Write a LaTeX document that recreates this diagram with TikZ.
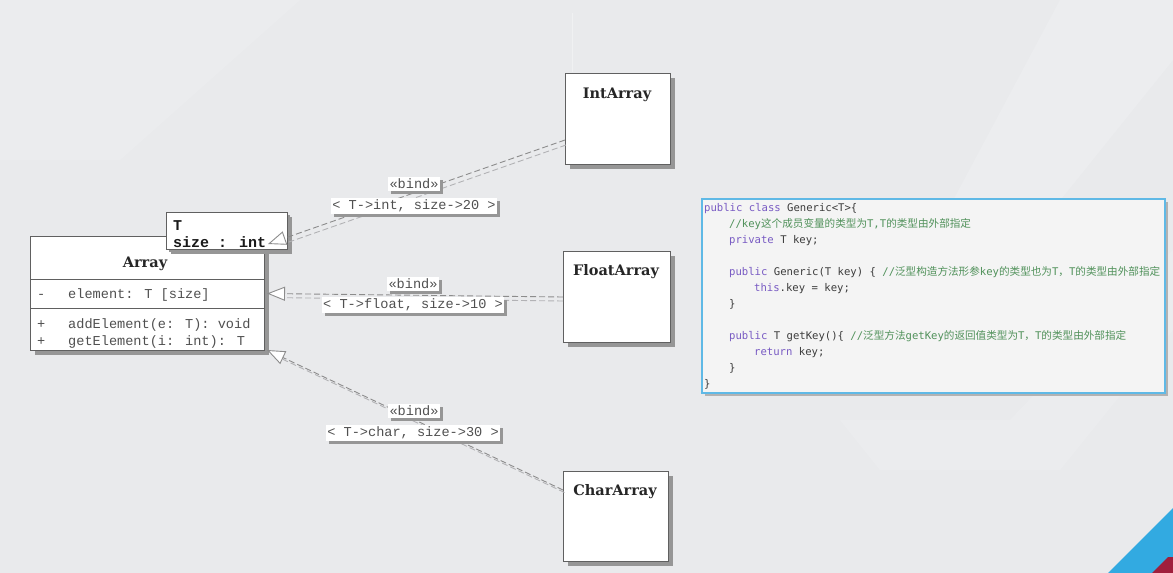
\documentclass[tikz,border=0pt]{standalone}
\usepackage{fontspec}
\setmainfont{DejaVu Serif}
\newfontfamily\lmono{Liberation Mono}
\newfontfamily\cmono{DejaVu Sans Mono}
\newfontfamily\cjk{Noto Sans CJK SC}
\usetikzlibrary{arrows.meta,shadows,calc}
\definecolor{bg}{RGB}{233,234,236}
\definecolor{boxline}{RGB}{96,96,96}
\definecolor{shade}{RGB}{150,150,150}
\definecolor{kw}{RGB}{120,90,195}
\definecolor{cm}{RGB}{80,145,90}
\definecolor{codetxt}{RGB}{60,60,60}
\definecolor{codeframe}{RGB}{95,185,230}
\definecolor{codebg}{RGB}{244,244,244}
\definecolor{lbl}{RGB}{80,80,80}
\definecolor{conn}{RGB}{140,140,140}
\definecolor{connshade}{RGB}{178,178,181}
\definecolor{deco}{RGB}{242,243,245}
\definecolor{bluecorner}{RGB}{50,170,225}
\definecolor{redcorner}{RGB}{160,30,60}
\begin{document}
\begin{tikzpicture}[x=1pt,y=-1pt,
  classbox/.style={draw=boxline, line width=1pt, fill=white, inner sep=0pt,
    drop shadow={shadow xshift=4pt, shadow yshift=-4pt, fill=shade, opacity=1}},
  classtitle/.style={font=\fontsize{14.5}{16}\selectfont\bfseries, text=black!85, inner sep=0pt},
  member/.style={font=\lmono\fontsize{13.6}{15}\selectfont, text=lbl, anchor=base west, inner sep=0pt},
  tmpltext/.style={font=\lmono\bfseries\fontsize{15}{16}\selectfont, text=black!90, anchor=base west, inner sep=0pt},
  lblbox/.style={fill=white, inner sep=1.5pt, font=\lmono\fontsize{13.6}{15}\selectfont, text=lbl,
    drop shadow={shadow xshift=3pt, shadow yshift=-3pt, fill=shade, opacity=1}},
  bindline/.style={draw=conn, line width=0.9pt, dash pattern=on 6pt off 3pt},
  bindshade/.style={draw=connshade, line width=0.9pt, dash pattern=on 6pt off 3pt, shorten >=16pt},
  gen/.style={-{Triangle[length=18pt,width=14pt,fill=white]}},
  codeline/.style={anchor=base west, inner sep=0pt, font=\cmono\fontsize{10.6}{12}\selectfont, text=codetxt},
  codebox/.style={draw=codeframe, line width=1.8pt, fill=codebg, inner sep=0pt,
    drop shadow={shadow xshift=3pt, shadow yshift=-3pt, fill=gray!60, opacity=1}}
]
\useasboundingbox (0,0) rectangle (1173,573);
\fill[bg] (0,0) rectangle (1173,573);
% faint background decoration
\fill[deco, opacity=0.35] (1060,0) -- (1173,0) -- (1173,60) -- (980,300) -- (900,300) -- cycle;
\fill[deco, opacity=0.3] (840,420) -- (1010,420) -- (1173,250) -- (1173,330) -- (1060,470) -- (880,470) -- cycle;
\fill[deco, opacity=0.25] (0,0) -- (300,0) -- (120,160) -- (0,160) -- cycle;
\draw[white, opacity=0.35, line width=0.6pt] (572,13) -- (572,72);
\fill[bluecorner] (1108,573) -- (1173,508) -- (1173,573) -- cycle;
\fill[redcorner] (1152,573) -- (1168,557) -- (1173,557) -- (1173,573) -- cycle;

% Array class
\node[classbox, minimum width=234pt, minimum height=114pt, anchor=north west] (Array) at (30,236) {};
\node[classtitle] (ArrayT) at (145,264) {Array};
\draw[boxline, line width=1pt] (Array.west |- 0,279) -- (Array.east |- 0,279);
\draw[boxline, line width=1pt] (Array.west |- 0,308) -- (Array.east |- 0,308);
\node[member] (m0s) at (37,298) {-};
\node[member] (m0) at (68,298) {element: T [size]};
\node[member] (m1s) at (37,328) {+};
\node[member] (m1) at (68,328) {addElement(e: T): void};
\node[member] (m2s) at (37,345) {+};
\node[member] (m2) at (68,345) {getElement(i: int): T};

% template parameter box
\node[classbox, minimum width=121pt, minimum height=37pt, anchor=north west,
  drop shadow={shadow xshift=2pt, shadow yshift=-2pt, fill=shade, opacity=1}] (Tmpl) at (166,212) {};
\node[tmpltext] (tT) at (173,230) {T};
\node[tmpltext] (tS) at (173,247) {size : int};

% bound classes
\node[classbox, minimum width=105pt, minimum height=91pt, anchor=north west] (IntArray) at (565,73) {};
\node[classtitle] (IntArrayT) at (617,95) {IntArray};
\node[classbox, minimum width=107pt, minimum height=91pt, anchor=north west] (FloatArray) at (563,251) {};
\node[classtitle] (FloatArrayT) at (616,272) {FloatArray};
\node[classbox, minimum width=105pt, minimum height=90pt, anchor=north west] (CharArray) at (563,471) {};
\node[classtitle] (CharArrayT) at (615,492) {CharArray};

% connectors
\coordinate (intS) at (565,140);
\coordinate (intT) at (268,244);
\coordinate (chrS) at (563,490);
\coordinate (chrT) at (267,350);
\draw[bindshade, transform canvas={shift={(1pt,-5pt)}}] (intS) -- (intT);
\draw[bindshade, transform canvas={shift={(0pt,-4pt)}}] (FloatArray.west) -- ([xshift=2pt]Array.east);
\draw[bindshade, transform canvas={shift={(1.5pt,-2.5pt)}}] (chrS) -- (chrT);
\draw[bindline, gen] (intS) -- (intT);
\draw[bindline, gen] (FloatArray.west) -- ([xshift=2pt]Array.east);
\draw[bindline, gen] (chrS) -- (chrT);

% labels
\node[lblbox] (b1) at (414,184) {«bind»};
\node[lblbox] (l1) at (414,206) {< T->int, size->20 >};
\node[lblbox] (b2) at (413,284) {«bind»};
\node[lblbox] (l2) at (413,305) {< T->float, size->10 >};
\node[lblbox] (b3) at (414,411) {«bind»};
\node[lblbox] (l3) at (413,433) {< T->char, size->30 >};

% code box
\node[codebox, minimum width=463pt, minimum height=194pt, anchor=north west] (Code) at (701,198) {};
\node[codeline] (c1) at (704,211) {{\color{kw}public class} Generic<T>\{};
\node[codeline] (c2) at (729,227) {{\color{cm}//key{\cjk 这个成员变量的类型为}T,T{\cjk 的类型由外部指定}}};
\node[codeline] (c3) at (729,243) {{\color{kw}private} T key;};
\node[codeline] (c4) at (729,275) {{\color{kw}public} Generic(T key) \{ {\color{cm}//{\cjk 泛型构造方法形参}key{\cjk 的类型也为}T{\cjk ，}T{\cjk 的类型由外部指定}}};
\node[codeline] (c5) at (754,291) {{\color{kw}this}.key = key;};
\node[codeline] (c6) at (729,307) {\}};
\node[codeline] (c7) at (729,339) {{\color{kw}public} T getKey()\{ {\color{cm}//{\cjk 泛型方法}getKey{\cjk 的返回值类型为}T{\cjk ，}T{\cjk 的类型由外部指定}}};
\node[codeline] (c8) at (754,355) {{\color{kw}return} key;};
\node[codeline] (c9) at (729,371) {\}};
\node[codeline] (c10) at (704,387) {\}};
\end{tikzpicture}
\end{document}
